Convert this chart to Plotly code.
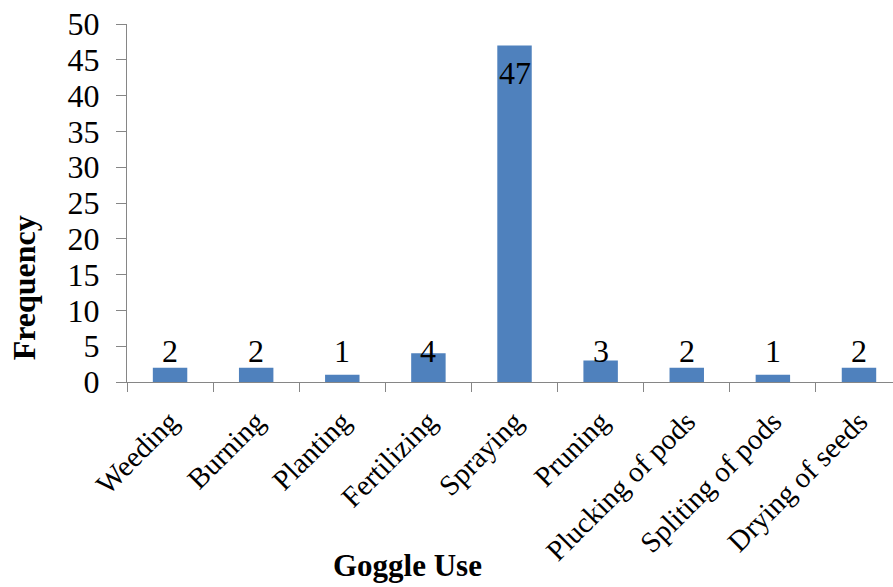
import plotly.graph_objects as go

categories = ["Weeding", "Burning", "Planting", "Fertilizing", "Spraying",
              "Pruning", "Plucking of pods", "Spliting of pods", "Drying of seeds"]
values = [2, 2, 1, 4, 47, 3, 2, 1, 2]
y_ticks = [0, 5, 10, 15, 20, 25, 30, 35, 40, 45, 50]
x_title = "Goggle Use"
y_title = "Frequency"

FONT = "Liberation Serif, Times New Roman, serif"
BAR = "#4F81BD"
AXIS = "#868686"

fig = go.Figure()
fig.add_trace(go.Bar(x=categories, y=values, width=0.4,
                     marker=dict(color=BAR, line=dict(width=0)),
                     hoverinfo="skip"))

annotations = []
for c, v in zip(categories, values):
    if v > 10:
        annotations.append(dict(x=c, y=v, xref="x", yref="y", text=str(v),
                                showarrow=False, yanchor="top", yshift=-8,
                                font=dict(family=FONT, size=32, color="black")))
    else:
        annotations.append(dict(x=c, y=2, xref="x", yref="y", text=str(v),
                                showarrow=False, yanchor="bottom", yshift=-3,
                                font=dict(family=FONT, size=32, color="black")))

annotations.append(dict(x=0.366, y=-0.512, xref="paper", yref="paper",
                        text="<b>" + x_title + "</b>", showarrow=False,
                        xanchor="center", yanchor="middle",
                        font=dict(family=FONT, size=31, color="black")))
annotations.append(dict(x=-0.134, y=0.2626, xref="paper", yref="paper",
                        text="<b>" + y_title + "</b>", showarrow=False,
                        textangle=-90, xanchor="center", yanchor="middle",
                        font=dict(family=FONT, size=32, color="black")))

fig.update_layout(
    width=893, height=587,
    margin=dict(l=127, r=0, t=24, b=205),
    paper_bgcolor="white", plot_bgcolor="white",
    showlegend=False,
    bargap=0.6,
    annotations=annotations,
    font=dict(family=FONT, color="black"),
)
fig.update_xaxes(type="category", range=[-0.5, 8.395],
                 tickson="boundaries", ticks="outside", ticklen=9,
                 tickcolor=AXIS, tickwidth=1,
                 showline=True, linecolor=AXIS, linewidth=1,
                 showgrid=False, zeroline=False,
                 ticklabelstandoff=10,
                 tickangle=-45, tickfont=dict(family=FONT, size=29, color="black"))
fig.update_yaxes(range=[0, 50], tickvals=y_ticks,
                 ticks="outside", ticklen=10, tickcolor=AXIS, tickwidth=1,
                 showline=True, linecolor=AXIS, linewidth=1,
                 showgrid=False, zeroline=False,
                 ticklabelstandoff=10,
                 tickfont=dict(family=FONT, size=32, color="black"))

fig.write_html("out.html")
